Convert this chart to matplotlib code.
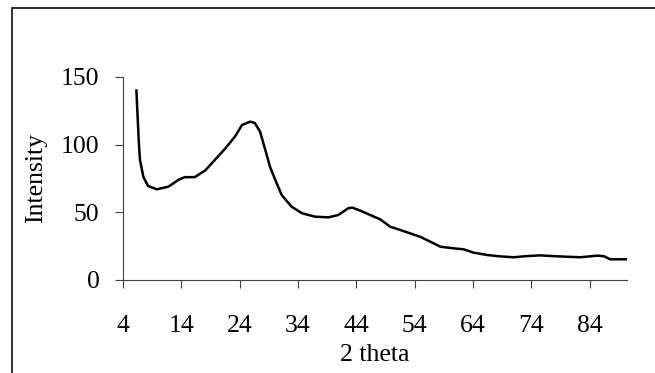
import matplotlib
matplotlib.use("Agg")
import matplotlib.pyplot as plt
from matplotlib.patches import Rectangle

two_theta = [6.3, 6.5, 6.7, 6.9, 7.5, 8.3, 9.8, 11.8, 13.5, 14.6, 16.3, 18.1,
             19.8, 21.5, 23.2, 24.4, 25.8, 26.6, 27.5, 28.4, 29.2, 30.1, 31.2,
             32.9, 34.7, 36.9, 39.2, 40.9, 42.6, 43.3, 44.7, 46.4, 48.1, 49.8,
             51.5, 53.2, 54.9, 56.7, 58.4, 60.7, 62.4, 64.1, 66.4, 68.5, 71.0,
             73.0, 75.5, 78.0, 80.1, 82.4, 85.3, 86.5, 87.5, 90.3]
intensity = [140, 121, 103, 89, 76, 69.5, 67, 69, 74, 76, 76, 81,
             89, 97, 106, 114.5, 117, 116, 109.6, 96, 83.7, 74, 62.8,
             54.2, 49.3, 46.8, 46.3, 48, 53, 53.5, 51.2, 48, 44.8, 39.4,
             37, 34.5, 32, 28.3, 24.6, 23.4, 22.7, 20.2, 18.5, 17.5, 16.8,
             17.6, 18.2, 17.6, 17.2, 16.8, 18, 17.5, 15.3, 15.3]
xticks = [4, 14, 24, 34, 44, 54, 64, 74, 84]
yticks = [0, 50, 100, 150]

plt.rcParams['font.family'] = ['Liberation Serif', 'DejaVu Serif']

fig = plt.figure(figsize=(6.55, 3.73), dpi=100)
ax = fig.add_axes([123/655, 1-280/373, (627-123)/655, (280-77)/373])

ax.plot(two_theta, intensity, color='black', lw=1.8)

ax.set_xlim(4, 90.4)
ax.set_ylim(0, 150)
ax.set_xticks(xticks)
ax.set_yticks(yticks)
ax.tick_params(labelsize=18.5, direction='out', length=6, width=0.8,
               color='#404040')
ax.tick_params(axis='y', pad=11)
ax.tick_params(axis='x', pad=19)
for s in ['top', 'right']:
    ax.spines[s].set_visible(False)
for s in ['left', 'bottom']:
    ax.spines[s].set_color('#404040')
    ax.spines[s].set_linewidth(0.8)

ax.set_xlabel('2 theta', fontsize=18.5, labelpad=5)
ax.set_ylabel('Intensity', fontsize=18.5, labelpad=10)

# outer chart border (cut off at right and bottom)
fig.patches.append(Rectangle((12/655, -0.1), 2.0, 0.1 + 1 - 8/373,
                             transform=fig.transFigure, fill=False,
                             edgecolor='#202020', linewidth=1.3))

fig.savefig('out.png', dpi=100)
